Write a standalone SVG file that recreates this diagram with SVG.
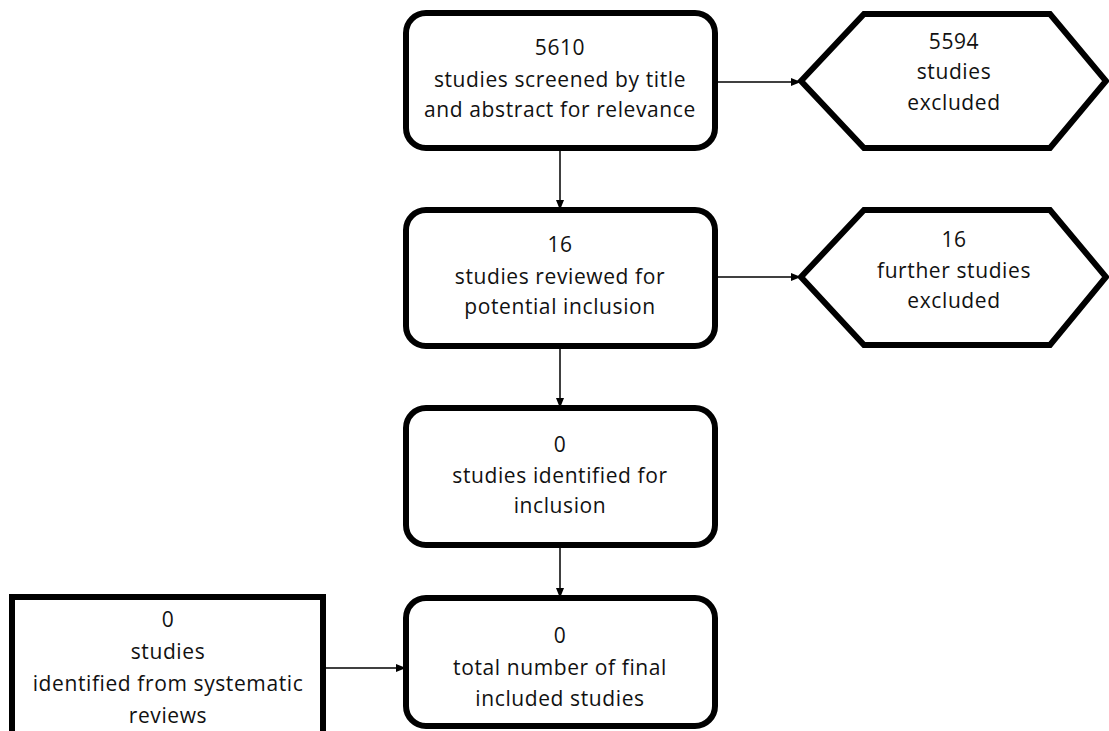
<svg xmlns="http://www.w3.org/2000/svg" width="1109" height="731" viewBox="0 0 1109 731">
<defs>
<marker id="ah" markerWidth="10" markerHeight="8" refX="9" refY="4" orient="auto" markerUnits="userSpaceOnUse">
<path d="M0,0 L10,4 L0,8 Z" fill="#000"/>
</marker>
<style>
.box{fill:#fff;stroke:#000;stroke-width:6}
.t{font-family:"Open Sans","Liberation Sans",Arial,sans-serif;font-size:21px;letter-spacing:0.6px;fill:#111;text-anchor:middle}
.c{stroke:#000;stroke-width:1.5;fill:none;marker-end:url(#ah)}
</style>
</defs>
<rect width="1109" height="731" fill="#fff"/>
<g id="connectors">
<line class="c" x1="716" y1="82" x2="800" y2="82"/>
<line class="c" x1="560" y1="148" x2="560" y2="209"/>
<line class="c" x1="716" y1="277" x2="800" y2="277"/>
<line class="c" x1="560" y1="346" x2="560" y2="407"/>
<line class="c" x1="560" y1="545" x2="560" y2="597"/>
<line class="c" x1="325" y1="668" x2="405" y2="668"/>
</g>
<g id="n1">
<rect class="box" x="406" y="13" width="309" height="135" rx="20"/>
<text class="t" x="560" y="55">5610</text>
<text class="t" x="560" y="87">studies screened by title</text>
<text class="t" x="560" y="117">and abstract for relevance</text>
</g>
<g id="n2">
<polygon class="box" points="801,81 864,14 1050,14 1106,81 1050,148 864,148"/>
<text class="t" x="954" y="49">5594</text>
<text class="t" x="954" y="79">studies</text>
<text class="t" x="954" y="110">excluded</text>
</g>
<g id="n3">
<rect class="box" x="406" y="210" width="309" height="136" rx="20"/>
<text class="t" x="560" y="252">16</text>
<text class="t" x="560" y="284">studies reviewed for</text>
<text class="t" x="560" y="314">potential inclusion</text>
</g>
<g id="n4">
<polygon class="box" points="801,277 864,210 1050,210 1106,277 1050,345 864,345"/>
<text class="t" x="954" y="247">16</text>
<text class="t" x="954" y="278">further studies</text>
<text class="t" x="954" y="308">excluded</text>
</g>
<g id="n5">
<rect class="box" x="406" y="408" width="309" height="137" rx="20"/>
<text class="t" x="560" y="452">0</text>
<text class="t" x="560" y="483">studies identified for</text>
<text class="t" x="560" y="513">inclusion</text>
</g>
<g id="n6">
<rect class="box" x="406" y="598" width="309" height="128" rx="20"/>
<text class="t" x="560" y="643">0</text>
<text class="t" x="560" y="675">total number of final</text>
<text class="t" x="560" y="706">included studies</text>
</g>
<g id="n7">
<rect class="box" x="12" y="597" width="311" height="140"/>
<text class="t" x="168" y="627">0</text>
<text class="t" x="168" y="659">studies</text>
<text class="t" x="168" y="691">identified from systematic</text>
<text class="t" x="168" y="723">reviews</text>
</g>
</svg>
